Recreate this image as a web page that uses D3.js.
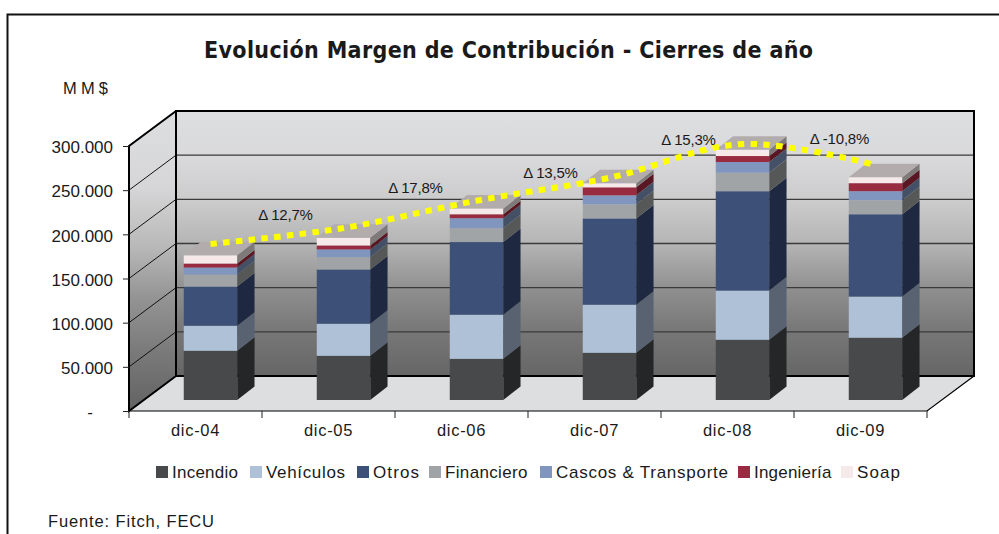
<!DOCTYPE html>
<html><head><meta charset="utf-8">
<style>
html,body{margin:0;padding:0;background:#fff;overflow:hidden}
svg{display:block}
text{font-family:"Liberation Sans",Arial,sans-serif;fill:#1a1a1a}
.domain{display:none}
</style>
<script src="https://cdn.jsdelivr.net/npm/d3@7/dist/d3.min.js"></script>
</head><body>
<svg id="c" width="999" height="534"></svg>
<script>
const categories = ["dic-04","dic-05","dic-06","dic-07","dic-08","dic-09"];
const seriesNames = ["Incendio","Vehículos","Otros","Financiero","Cascos & Transporte","Ingeniería","Soap"];
const incendio   = [55700,50000,46600,53400,68200,70500];
const vehiculos  = [28400,36400,50000,54500,55700,46600];
const otros      = [44300,61400,82200,97700,112500,93200];
const financiero = [13600,14000,15600,15900,20800,15900];
const cascos     = [8000,8700,11400,10200,12200,10200];
const ingenieria = [4500,4500,4500,9100,6800,9100];
const soap       = [9400,8700,6500,4500,7200,6800];
const seriesValues = [incendio,vehiculos,otros,financiero,cascos,ingenieria,soap];
const trendValues = [176600,194700,225600,251600,289800,266000];
const deltaLabels = ["Δ 12,7%","Δ 17,8%","Δ 13,5%","Δ 15,3%","Δ -10,8%"];
const yTicks = [0,50000,100000,150000,200000,250000,300000];
const yTickLabels = ["-","50.000","100.000","150.000","200.000","250.000","300.000"];
const frontColors = ["#48494b","#aec1d7","#3c5078","#a0a4a7","#8096bf","#982b40","#f5e9ea"];
const sideColors  = ["#242627","#586270","#1e2840","#565858","#435066","#581722","#7f7a7a"];
const topColor = "#b3acac";

const svg = d3.select("#c");
const L=129,R=927,B=411,T=146,DX=47,DY=35;   // plot frame and wall depth
const FX=15,FY=11, SX=17.3, SY=13.5;          // bar placement depth, bar depth

const x = d3.scaleBand().domain(categories).range([L,R]);
const xBar = d3.scaleBand().domain(categories).range([L,R]).paddingInner(0.598).paddingOuter(0.299);
const y = d3.scaleLinear().domain([0,300000]).range([B,T]);

const defs = svg.append("defs");
const grad = defs.append("linearGradient").attr("id","wall").attr("gradientUnits","userSpaceOnUse")
  .attr("x1",0).attr("x2",0).attr("y1",113).attr("y2",376);
[[0,"#dddee0"],[.17,"#d9d9db"],[.34,"#cbcbcc"],[.5,"#b4b4b4"],[.67,"#8f8f8f"],[.83,"#777777"],[1,"#666666"]]
  .forEach(s=>grad.append("stop").attr("offset",s[0]).attr("stop-color",s[1]));
const grad2 = defs.append("linearGradient").attr("id","lwall").attr("gradientUnits","userSpaceOnUse")
  .attr("x1",0).attr("x2",0).attr("y1",113).attr("y2",411);
[[0,"#dddee0"],[.25,"#d6d6d8"],[.45,"#b8b8b8"],[.62,"#949494"],[.8,"#7a7a7a"],[1,"#626262"]]
  .forEach(s=>grad2.append("stop").attr("offset",s[0]).attr("stop-color",s[1]));

// frame
svg.append("path").attr("d","M7.5,534V14.5H999").attr("fill","none").attr("stroke","#111").attr("stroke-width",2);

// title etc.
svg.append("text").attr("x",508.5).attr("y",58).attr("text-anchor","middle")
  .attr("textLength",609).attr("lengthAdjust","spacing")
  .style("font-family","'DejaVu Sans'").style("font-stretch","condensed").style("font-weight","bold").style("font-size","23px")
  .text("Evolución Margen de Contribución - Cierres de año");
svg.append("text").attr("x",63).attr("y",93.5).style("font-size","16.5px").attr("textLength",45).text("MM$");
svg.append("text").attr("x",48).attr("y",526.5).style("font-size","16.5px").attr("textLength",166).text("Fuente: Fitch, FECU");

// floor
svg.append("path").attr("d",`M${L},${B}H${R}L${R+DX},${B-DY}H${L+DX}Z`).attr("fill","#dddee0");
// back wall
svg.append("rect").attr("x",L+DX).attr("y",y(300000)-DY).attr("width",R-L).attr("height",y(0)-y(300000)).attr("fill","url(#wall)");
// left wall
svg.append("path").attr("d",`M${L},${B}V${T}L${L+DX},${T-DY}V${B-DY}Z`).attr("fill","url(#lwall)");

// grid
const gridVals = yTicks.slice(1,-1);
svg.selectAll(".gb").data(gridVals).join("line").attr("x1",L+DX).attr("x2",R+DX)
  .attr("y1",d=>y(d)-DY).attr("y2",d=>y(d)-DY).attr("stroke","#3a3a3a").attr("stroke-width",1.4);
svg.selectAll(".gl").data(gridVals).join("line").attr("x1",L).attr("x2",L+DX)
  .attr("y1",d=>y(d)).attr("y2",d=>y(d)-DY).attr("stroke","#111").attr("stroke-width",1);

// wall outline
svg.append("path").attr("d",`M${L+DX},${B-DY}V${T-DY}H${R+DX}V${B-DY}H${L+DX}M${L+DX},${T-DY}L${L},${T}V${B}L${L+DX},${B-DY}`)
  .attr("fill","none").attr("stroke","#000").attr("stroke-width",2);
svg.append("path").attr("d",`M${L},${B}H${R}L${R+DX},${B-DY}`).attr("fill","none").attr("stroke","#000").attr("stroke-width",1.2);

// axes
const yAxis = d3.axisLeft(y).tickValues(yTicks).tickSize(6).tickPadding(10)
  .tickFormat((d,i)=>yTickLabels[i]);
const gy = svg.append("g").attr("transform",`translate(${L},0)`).call(yAxis);
gy.selectAll("text").style("font-size","17px").attr("fill","#1a1a1a").attr("dy","0.4em");
gy.selectAll("line").attr("stroke","#222");
gy.selectAll("text").filter(d=>d===0).attr("dx",-20);
const xAxis = d3.axisBottom(x).tickSize(0).tickPadding(13);
const gx = svg.append("g").attr("transform",`translate(0,${B})`).call(xAxis);
gx.selectAll("text").style("font-size","16.5px").style("letter-spacing","0.7px").attr("fill","#1a1a1a");
const edges = categories.map(c=>x(c)).concat([x(categories[5])+x.step()]);
svg.selectAll(".xt").data(edges).join("line").attr("x1",d=>d).attr("x2",d=>d).attr("y1",B).attr("y2",B+7).attr("stroke","#222");

// bars
const stackSeries = d3.stack().keys(d3.range(seriesNames.length)).value((d,k)=>seriesValues[k][d])(d3.range(categories.length));
const yb = v=>y(v)-FY;
const barG = svg.selectAll(".bar").data(categories).join("g");
barG.each(function(cat,i){
  const g=d3.select(this), x0=xBar(cat)+FX, x1=x0+xBar.bandwidth();
  stackSeries.forEach((s,k)=>{
    const y0=yb(s[i][0]), y1=yb(s[i][1]);
    g.append("rect").attr("x",x0).attr("y",y1).attr("width",x1-x0).attr("height",y0-y1).attr("fill",frontColors[k]);
    g.append("path").attr("d",`M${x1},${y0}L${x1+SX},${y0-SY}V${y1-SY}L${x1},${y1}Z`).attr("fill",sideColors[k]);
    if(k===stackSeries.length-1){
      g.append("path").attr("d",`M${x0},${y1}H${x1}L${x1+SX},${y1-SY}H${x0+SX}Z`).attr("fill",topColor);
    }
  });
});

// trend line
const lx = d3.scalePoint().domain(categories).range([xBar(categories[0])+FX+xBar.bandwidth()/2, xBar(categories[5])+FX+xBar.bandwidth()/2]);
const line = d3.line().x((d,i)=>lx(categories[i])).y(d=>yb(d)).curve(d3.curveCatmullRom.alpha(0.5));
svg.append("path").attr("d",line(trendValues)).attr("fill","none").attr("stroke","#ffff00").attr("stroke-width",6).attr("stroke-dasharray","6.5 6.3");

// delta labels
const dOff=[[75,-29],[72,-40],[74,-28],[79,-38],[97,-5]];
svg.selectAll(".dl").data(deltaLabels).join("text")
  .attr("x",(d,i)=>lx(categories[i])+dOff[i][0]).attr("y",(d,i)=>yb(trendValues[i])+dOff[i][1]+5)
  .attr("text-anchor","middle").style("font-size","15px").style("letter-spacing","-0.2px").text(d=>d);

// legend
const legX=[156,250,357,429,540,738,841], legW=[66,79,46,82.5,172,77.5,43];
const lg=svg.selectAll(".lg").data(seriesNames).join("g").attr("transform",(d,i)=>`translate(${legX[i]},466)`);
lg.append("rect").attr("width",12).attr("height",12).attr("fill",(d,i)=>frontColors[i]);
lg.append("text").attr("x",16).attr("y",11.5).style("font-size","17px").attr("textLength",(d,i)=>legW[i]).text(d=>d);
</script>
</body></html>
